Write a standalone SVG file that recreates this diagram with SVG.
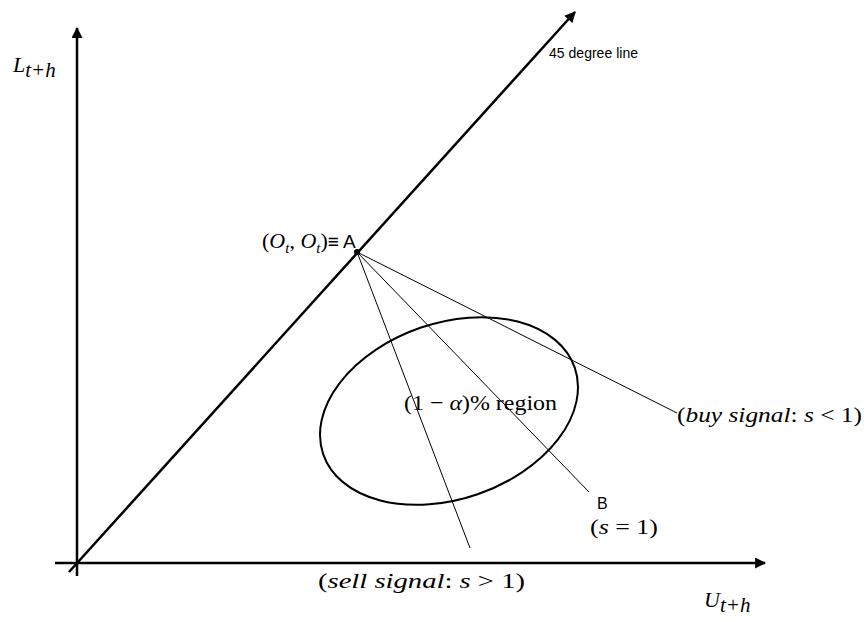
<svg xmlns="http://www.w3.org/2000/svg" width="867" height="622" viewBox="0 0 867 622">
<defs>
<marker id="ah" viewBox="0 0 10 10" refX="9" refY="5" markerWidth="5" markerHeight="4.4" markerUnits="strokeWidth" orient="auto">
<path d="M0,0 L10,5 L0,10 z" fill="#000"/>
</marker>
</defs>
<style>
.ax{stroke:#000;stroke-width:2.5;fill:none}
.thin{stroke:#000;stroke-width:1;fill:none}
.m{font-family:"Liberation Serif","DejaVu Serif",serif;font-size:22px;fill:#000}
.i{font-style:italic}
.s{font-family:"Liberation Sans","DejaVu Sans",sans-serif;fill:#000}
</style>
<rect width="867" height="622" fill="#fff"/>
<g id="connectors">
<line class="ax" x1="77" y1="576" x2="77" y2="28" marker-end="url(#ah)"/>
<line class="ax" x1="55" y1="563" x2="765" y2="563" marker-end="url(#ah)"/>
<line class="ax" x1="69" y1="572" x2="575" y2="12" marker-end="url(#ah)"/>
<line class="thin" x1="357" y1="252" x2="470" y2="548"/>
<line class="thin" x1="357" y1="252" x2="589" y2="492"/>
<line class="thin" x1="357" y1="252" x2="677" y2="413"/>
</g>
<g id="pointA">
<circle cx="357" cy="252" r="3" fill="#000"/>
<text x="262" y="248" class="m"><tspan>(</tspan><tspan class="i">O</tspan><tspan class="i" font-size="15" dy="5">t</tspan><tspan dy="-5">, </tspan><tspan class="i">O</tspan><tspan class="i" font-size="15" dy="5">t</tspan><tspan dy="-5">)</tspan><tspan class="s" font-size="19">≡ A</tspan></text>
</g>
<g id="region">
<ellipse cx="449" cy="411" rx="133" ry="88" transform="rotate(-19 449 411)" fill="none" stroke="#000" stroke-width="2"/>
<text x="404" y="410" class="m" textLength="153" lengthAdjust="spacingAndGlyphs">(1 − <tspan class="i">α</tspan>)% region</text>
</g>
<g id="ylabel">
<text x="13" y="72" class="m i" font-size="28">L<tspan font-size="21" dy="5">t+h</tspan></text>
</g>
<g id="xlabel">
<text x="704" y="607" class="m i" font-size="28">U<tspan font-size="21" dy="5">t+h</tspan></text>
</g>
<g id="line45">
<text x="549" y="58" class="s" font-size="14" textLength="89">45 degree line</text>
</g>
<g id="sell">
<text x="318" y="588" class="m" textLength="207" lengthAdjust="spacingAndGlyphs">(<tspan class="i">sell signal</tspan>: <tspan class="i">s</tspan> &gt; 1)</text>
</g>
<g id="pointB">
<text x="597" y="509" class="s" font-size="16">B</text>
<text x="590" y="534" class="m" textLength="68" lengthAdjust="spacingAndGlyphs">(<tspan class="i">s</tspan> = 1)</text>
</g>
<g id="buy">
<text x="677" y="422" class="m" textLength="185" lengthAdjust="spacingAndGlyphs">(<tspan class="i">buy signal</tspan>: <tspan class="i">s</tspan> &lt; 1)</text>
</g>
</svg>
